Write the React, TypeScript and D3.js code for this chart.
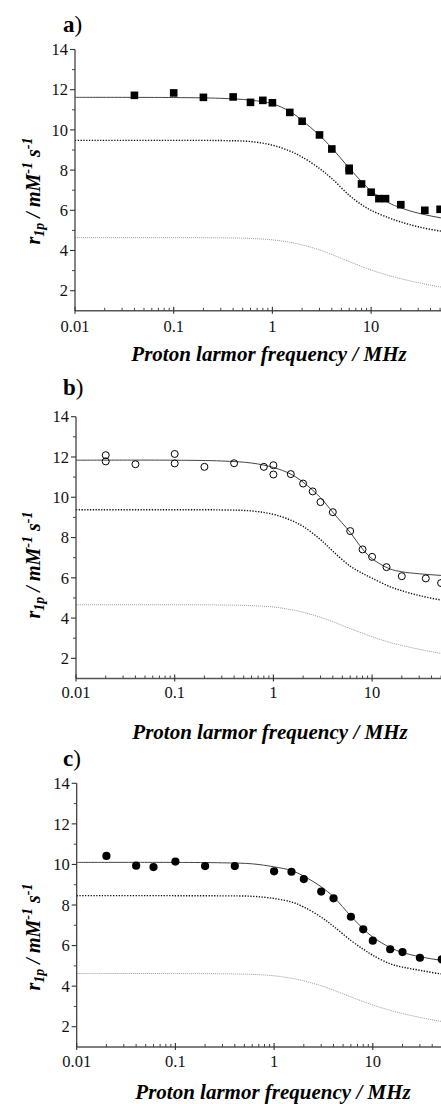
import React from 'react';
import * as d3 from 'd3';

// Frequencies (MHz) at which the fitted profiles are tabulated
const FIT_FREQ = [0.01, 0.1, 0.3, 0.6, 1, 1.5, 2, 3, 4, 6, 8, 10, 15, 20, 30, 50, 80];

// Panel a — measured relaxivities (squares)
const FREQ_A = [0.04, 0.1, 0.2, 0.4, 0.6, 0.8, 1, 1.5, 2, 3, 4, 6, 6, 8, 10, 12, 14, 20, 35, 50];
const R1P_A = [11.72, 11.84, 11.62, 11.64, 11.37, 11.47, 11.35, 10.87, 10.43, 9.75, 9.05, 8.09, 7.97, 7.31, 6.9, 6.58, 6.58, 6.28, 6.0, 6.05];
const FIT_A = [11.62, 11.61, 11.57, 11.48, 11.3, 10.92, 10.47, 9.73, 9.1, 8.1, 7.43, 6.97, 6.38, 6.12, 5.86, 5.63, 5.5];
const INNER_A = [9.48, 9.48, 9.47, 9.42, 9.24, 8.95, 8.65, 8.08, 7.58, 6.75, 6.28, 6.0, 5.63, 5.42, 5.18, 4.97, 4.86];
const OUTER_A = [4.64, 4.64, 4.63, 4.6, 4.53, 4.41, 4.28, 4.03, 3.8, 3.45, 3.21, 3.03, 2.76, 2.6, 2.4, 2.19, 2.08];

// Panel b — measured relaxivities (open circles)
const FREQ_B = [0.02, 0.02, 0.04, 0.1, 0.1, 0.2, 0.4, 0.8, 1, 1, 1.5, 2, 2.5, 3, 4, 6, 8, 10, 14, 20, 35, 50];
const R1P_B = [12.09, 11.78, 11.64, 12.15, 11.68, 11.51, 11.69, 11.51, 11.59, 11.13, 11.15, 10.68, 10.29, 9.76, 9.26, 8.32, 7.41, 7.04, 6.53, 6.08, 5.97, 5.74];
const FIT_B = [11.84, 11.84, 11.8, 11.7, 11.48, 11.15, 10.75, 9.98, 9.25, 8.25, 7.43, 6.95, 6.45, 6.3, 6.2, 6.12, 6.08];
const INNER_B = [9.38, 9.38, 9.37, 9.32, 9.15, 8.86, 8.55, 7.9, 7.32, 6.58, 6.22, 5.98, 5.57, 5.36, 5.12, 4.9, 4.79];
const OUTER_B = [4.66, 4.66, 4.65, 4.62, 4.55, 4.42, 4.29, 4.04, 3.82, 3.48, 3.25, 3.07, 2.8, 2.64, 2.45, 2.25, 2.15];

// Panel c — measured relaxivities (filled circles)
const FREQ_C = [0.02, 0.04, 0.06, 0.1, 0.2, 0.4, 1, 1.5, 2, 3, 4, 6, 8, 10, 15, 20, 30, 50];
const R1P_C = [10.42, 9.94, 9.87, 10.14, 9.92, 9.92, 9.66, 9.64, 9.28, 8.66, 8.33, 7.42, 6.8, 6.24, 5.82, 5.68, 5.4, 5.32];
const FIT_C = [10.1, 10.1, 10.08, 10.03, 9.88, 9.7, 9.42, 8.9, 8.4, 7.45, 6.83, 6.42, 5.9, 5.66, 5.45, 5.27, 5.18];
const INNER_C = [8.46, 8.46, 8.45, 8.43, 8.32, 8.15, 7.9, 7.4, 6.95, 6.25, 5.82, 5.52, 5.1, 4.94, 4.78, 4.6, 4.52];
const OUTER_C = [4.62, 4.62, 4.61, 4.58, 4.51, 4.39, 4.26, 4.02, 3.8, 3.47, 3.24, 3.07, 2.81, 2.65, 2.46, 2.26, 2.16];

const Y_TICKS = [2, 4, 6, 8, 10, 12, 14];
const X_TICKS = [0.01, 0.1, 1, 10];
const X_TICK_LABELS = ['0.01', '0.1', '1', '10'];

const X_TITLE = 'Proton larmor frequency / MHz';
const SERIF = '"Liberation Serif", "Times New Roman", serif';

type Panel = {
  label: string;
  marker: 'square' | 'open' | 'filled';
  freq: number[];
  r1p: number[];
  fit: number[];
  inner: number[];
  outer: number[];
  left: number;
  yTop: number; // pixel of r1p = 14
  yBot: number; // pixel of r1p = 1
  labelY: number;
  tickLabelY: number;
  titleY: number;
  titleX: number;
  yTitleY: number;
};

const PANELS: Panel[] = [
  { label: 'a', marker: 'square', freq: FREQ_A, r1p: R1P_A, fit: FIT_A, inner: INNER_A, outer: OUTER_A,
    left: 75, yTop: 49.5, yBot: 310.8, labelY: 32, tickLabelY: 332, titleY: 361, titleX: 269, yTitleY: 191 },
  { label: 'b', marker: 'open', freq: FREQ_B, r1p: R1P_B, fit: FIT_B, inner: INNER_B, outer: OUTER_B,
    left: 76, yTop: 416.7, yBot: 678.5, labelY: 395, tickLabelY: 698, titleY: 739, titleX: 270, yTitleY: 565 },
  { label: 'c', marker: 'filled', freq: FREQ_C, r1p: R1P_C, fit: FIT_C, inner: INNER_C, outer: OUTER_C,
    left: 76.7, yTop: 783.3, yBot: 1047, labelY: 766, tickLabelY: 1067, titleY: 1099, titleX: 273, yTitleY: 937 },
];

const DECADE = 98.7;

function PanelView({ p }: { p: Panel }) {
  const x = d3.scaleLog().domain([0.01, 100]).range([p.left, p.left + 4 * DECADE]);
  const y = d3.scaleLinear().domain([1, 14]).range([p.yBot, p.yTop]);
  const line = (vals: number[]) =>
    d3.line<number>()
      .x((_, i) => x(FIT_FREQ[i]))
      .y((v) => y(v))
      .curve(d3.curveCatmullRom.alpha(0.5))(vals) || '';

  const minorX: number[] = [];
  for (let e = -2; e < 2; e++) {
    for (let m = 2; m <= 9; m++) minorX.push(m * Math.pow(10, e));
  }
  const minorY = [3, 5, 7, 9, 11, 13];
  const axisY = y(1);

  return (
    <g>
      {/* panel letter */}
      <text x={63} y={p.labelY} fontFamily={SERIF} fontSize={23}>
        <tspan fontWeight="bold">{p.label}</tspan>
        <tspan>)</tspan>
      </text>

      {/* fitted profiles */}
      <path d={line(p.outer)} fill="none" stroke="#9a9a9a" strokeWidth={1} strokeDasharray="1 1" />
      <path d={line(p.inner)} fill="none" stroke="#111" strokeWidth={1.4} strokeDasharray="1.3 1.5" />
      <path d={line(p.fit)} fill="none" stroke="#444" strokeWidth={1} />

      {/* measurements */}
      {p.freq.map((f, i) => {
        const cx = x(f);
        const cy = y(p.r1p[i]);
        if (p.marker === 'square')
          return <rect key={i} x={cx - 3.8} y={cy - 3.8} width={7.6} height={7.6} fill="#000" />;
        if (p.marker === 'open')
          return <circle key={i} cx={cx} cy={cy} r={3.5} fill="none" stroke="#000" strokeWidth={1} />;
        return <circle key={i} cx={cx} cy={cy} r={4.1} fill="#000" />;
      })}

      {/* y axis */}
      <line x1={p.left} x2={p.left} y1={p.yTop} y2={axisY} stroke="#333" strokeWidth={1.2} />
      {Y_TICKS.map((t) => (
        <g key={t}>
          <line x1={p.left - 5} x2={p.left} y1={y(t)} y2={y(t)} stroke="#333" strokeWidth={1.1} />
          <text x={p.left - 7} y={y(t)} dy="0.35em" textAnchor="end" fontFamily={SERIF} fontSize={16.5} fill="#111">
            {t}
          </text>
        </g>
      ))}
      {minorY.map((t) => (
        <line key={t} x1={p.left - 3} x2={p.left} y1={y(t)} y2={y(t)} stroke="#444" strokeWidth={1} />
      ))}

      {/* x axis */}
      <line x1={p.left} x2={441} y1={axisY} y2={axisY} stroke="#555" strokeWidth={1.6} />
      {X_TICKS.map((t, i) => (
        <g key={t}>
          <line x1={x(t)} x2={x(t)} y1={axisY - 4} y2={axisY + 3} stroke="#333" strokeWidth={1.1} />
          <text x={x(t)} y={p.tickLabelY} textAnchor="middle" fontFamily={SERIF} fontSize={16.5} fill="#111">
            {X_TICK_LABELS[i]}
          </text>
        </g>
      ))}
      {minorX.map((t) => (
        <line key={t} x1={x(t)} x2={x(t)} y1={axisY - 3} y2={axisY} stroke="#444" strokeWidth={1} />
      ))}

      {/* axis titles */}
      <text x={p.titleX} y={p.titleY} textAnchor="middle" fontFamily={SERIF} fontSize={21}
        fontWeight="bold" fontStyle="italic" fill="#000">
        {X_TITLE}
      </text>
      <text transform={`translate(40,${p.yTitleY}) rotate(-90)`} textAnchor="middle" fontFamily={SERIF}
        fontSize={20} fontWeight="bold" fontStyle="italic" fill="#000">
        r<tspan fontSize={14} dy={4}>1p</tspan>
        <tspan dy={-4}> / mM</tspan>
        <tspan fontSize={14} dy={-8}>-1</tspan>
        <tspan dy={8}> s</tspan>
        <tspan fontSize={14} dy={-8}>-1</tspan>
      </text>
    </g>
  );
}

export default function App() {
  return (
    <svg width={441} height={1104} viewBox="0 0 441 1104"
      style={{ position: 'absolute', left: 0, top: 0, background: '#fff', display: 'block' }}>
      <rect width={441} height={1104} fill="#fff" />
      {PANELS.map((p) => (
        <PanelView key={p.label} p={p} />
      ))}
    </svg>
  );
}
